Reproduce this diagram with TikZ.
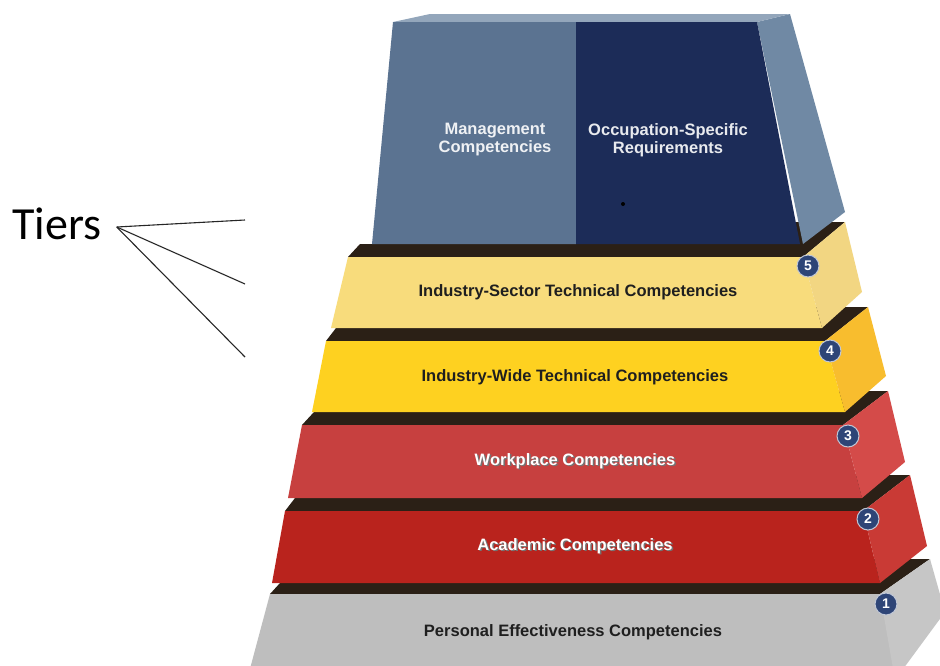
\documentclass[tikz,border=0pt]{standalone}
\usepackage{fontspec}
\setmainfont{Liberation Sans}
\newfontfamily\calib{Carlito}
\definecolor{bandc}{HTML}{2B2016}
\definecolor{mgmt}{HTML}{5B7391}
\definecolor{occ}{HTML}{1C2C58}
\definecolor{topside}{HTML}{7089A4}
\definecolor{topstrip}{HTML}{93A6BB}
\definecolor{t5f}{HTML}{F8DC7C}
\definecolor{t5s}{HTML}{F2D682}
\definecolor{t4f}{HTML}{FED120}
\definecolor{t4s}{HTML}{F8BD2E}
\definecolor{t3f}{HTML}{C7403F}
\definecolor{t3s}{HTML}{D44B49}
\definecolor{t2f}{HTML}{B9231D}
\definecolor{t2s}{HTML}{C93A35}
\definecolor{t1f}{HTML}{BEBEBE}
\definecolor{t1s}{HTML}{C6C6C6}
\definecolor{badgec}{HTML}{2E4577}
\tikzset{
  lbl/.style={font=\fontsize{16.5}{18}\selectfont\bfseries, inner sep=0pt},
  dlbl/.style={lbl, text=black!88},
  wlbl/.style={lbl, text=white},
  slbl/.style={lbl, text=black!55},
  badge/.style={circle, fill=badgec, draw=white!70!badgec, line width=1pt, minimum size=22pt, inner sep=0pt, text=white, font=\fontsize{14}{14}\selectfont\bfseries},
  tierline/.style={line width=1.1pt, black!85}
}
\begin{document}
\begin{tikzpicture}[x=1pt,y=-1pt]
\useasboundingbox (0,0) rectangle (940,665);
\clip (0,0) rectangle (940,665);
\fill[white] (0,0) rectangle (940,665);
% Tier 1
\fill[bandc] (270,594) -- (880,594) -- (930,559) -- (310,559) -- (280,583) -- cycle;
\fill[t1f] (270,594) -- (880,594) -- (897,680) -- (247,680) -- cycle;
\fill[t1s] (880,594) -- (930,559) -- (945,612) -- (895,680) -- cycle;
% Tier 2
\fill[bandc] (285,511) -- (863,511) -- (910,475) -- (325,475) -- (295,498) -- cycle;
\fill[t2f] (285,511) -- (863,511) -- (880,583) -- (272,583) -- cycle;
\fill[t2s] (863,511) -- (910,475) -- (927,546) -- (880,583) -- cycle;
% Tier 3
\fill[bandc] (302,425) -- (843,425) -- (888,391) -- (342,391) -- (314,412) -- cycle;
\fill[t3f] (302,425) -- (843,425) -- (862,498) -- (288,498) -- cycle;
\fill[t3s] (843,425) -- (888,391) -- (905,462) -- (862,498) -- cycle;
% Tier 4
\fill[bandc] (326,341) -- (825,341) -- (868,307) -- (366,307) -- (336,328) -- cycle;
\fill[t4f] (326,341) -- (825,341) -- (845,412) -- (312,412) -- cycle;
\fill[t4s] (825,341) -- (868,307) -- (886,376) -- (845,412) -- cycle;
% Tier 5
\fill[bandc] (348,257) -- (803,257) -- (845,222) -- (390,222) -- (376,244) -- (360,244) -- cycle;
\fill[t5f] (348,257) -- (803,257) -- (822,328) -- (331,328) -- cycle;
\fill[t5s] (803,257) -- (845,222) -- (862,292) -- (822,328) -- cycle;
% Top block
\fill[topside] (757,22) -- (790,14) -- (845,212) -- (803,244) -- cycle;
\fill[topstrip] (393,22) -- (430,14) -- (790,14) -- (757,22) -- cycle;
\fill[mgmt] (393,22) -- (576,22) -- (576,244) -- (372,244) -- cycle;
\fill[occ] (576,22) -- (757,22) -- (800,244) -- (576,244) -- cycle;
\fill[black] (623,204) circle (2);
% Labels
\node[lbl, text=white!90!mgmt, align=center] (mgmtlbl) at (495,140) {Management\\Competencies};
\node[lbl, text=white!90!occ, align=center] (occlbl) at (668,140) {Occupation-Specific\\Requirements};
\node[dlbl] (l5) at (578,292) {Industry-Sector Technical Competencies};
\node[dlbl] (l4) at (575,377) {Industry-Wide Technical Competencies};
\node[slbl] (l3s) at (576.5,462.5) {Workplace Competencies};
\node[wlbl] (l3) at (575,461) {Workplace Competencies};
\node[slbl] (l2s) at (576.5,547.5) {Academic Competencies};
\node[wlbl] (l2) at (575,546) {Academic Competencies};
\node[dlbl] (l1) at (573,632) {Personal Effectiveness Competencies};
% Badges
\node[badge] (b5) at (808,266) {5};
\node[badge] (b4) at (830,351) {4};
\node[badge] (b3) at (848,436) {3};
\node[badge] (b2) at (868,519) {2};
\node[badge] (b1) at (886,604) {1};
% Tiers
\node[inner sep=0pt, font=\calib\fontsize{46}{46}\selectfont] (tiers) at (57,224) {Tiers};
\coordinate (t1) at (245,220);
\coordinate (t2) at (245,284);
\coordinate (t3) at (245,357);
\draw[tierline] ([xshift=15pt,yshift=-3pt]tiers.east) -- (t1);
\draw[tierline] ([xshift=15pt,yshift=-3pt]tiers.east) -- (t2);
\draw[tierline] ([xshift=15pt,yshift=-3pt]tiers.east) -- (t3);
\end{tikzpicture}
\end{document}
